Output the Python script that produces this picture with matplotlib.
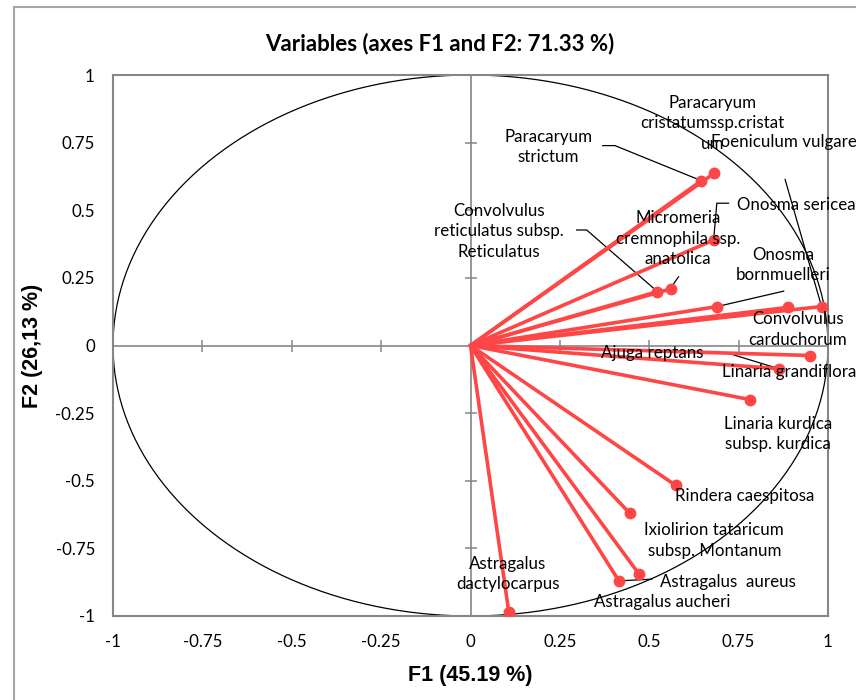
import numpy as np
import matplotlib
matplotlib.use("Agg")
import matplotlib.pyplot as plt
from matplotlib.lines import Line2D

# variable names and their coordinates on F1 / F2
names = [
	"Paracaryum\nstrictum",
	"Paracaryum\ncristatumssp.cristat\num",
	"Foeniculum vulgare",
	"Convolvulus\nreticulatus subsp.\nReticulatus",
	"Micromeria\ncremnophila ssp.\nanatolica",
	"Onosma sericea",
	"Onosma\nbornmuelleri",
	"Convolvulus\ncarduchorum",
	"Ajuga reptans",
	"Linaria grandiflora",
	"Linaria kurdica\nsubsp. kurdica",
	"Rindera caespitosa",
	"Ixiolirion tataricum\nsubsp. Montanum",
	"Astragalus  aureus",
	"Astragalus aucheri",
	"Astragalus\ndactylocarpus",
]
f1 = [0.646, 0.681, 0.982, 0.523, 0.560, 0.680, 0.690, 0.889,
	0.863, 0.951, 0.782, 0.574, 0.446, 0.472, 0.415, 0.107]
f2 = [0.609, 0.636, 0.144, 0.199, 0.209, 0.390, 0.144, 0.141,
	-0.086, -0.037, -0.200, -0.517, -0.621, -0.846, -0.870, -0.984]

ticks = [-1, -0.75, -0.5, -0.25, 0, 0.25, 0.5, 0.75, 1]
tick_labels = ["-1", "-0.75", "-0.5", "-0.25", "0", "0.25", "0.5", "0.75", "1"]

# where each label sits (data coords) and how it is aligned
label_pos = [
	(0.217, 0.734, "center"),
	(0.677, 0.822, "center"),
	(0.673, 0.752, "left"),
	(0.080, 0.423, "center"),
	(0.581, 0.394, "center"),
	(0.746, 0.519, "left"),
	(0.875, 0.298, "center"),
	(0.915, 0.059, "center"),
	(0.507, -0.029, "center"),
	(0.703, -0.099, "left"),
	(0.861, -0.327, "center"),
	(0.766, -0.555, "center"),
	(0.682, -0.721, "center"),
	(0.721, -0.873, "center"),
	(0.537, -0.947, "center"),
	(0.104, -0.845, "center"),
]

# leader lines: index of variable -> bend points before reaching the point
leaders = {
	0: [(0.370, 0.739), (0.404, 0.739)],
	3: [(0.297, 0.427), (0.325, 0.427)],
	5: [(0.722, 0.526), (0.689, 0.526)],
	6: [(0.876, 0.201)],
	2: [(0.880, 0.614)],
	8: [(0.680, -0.027), (0.717, -0.027)],
	14: [(0.507, -0.864)],
}
short_leaders = [[(0.582, 0.254), (0.566, 0.224)]]

RED = "#ff4646"
GREY = "#868686"
FONT = "Lato"
FS = 12.2

fig = plt.figure(figsize=(8.56, 7.00), dpi=100)
ax = fig.add_axes([113 / 856, 84 / 700, 715 / 856, 541 / 700])

# outer chart frame
fig.add_artist(Line2D([14 / 856, 14 / 856], [-0.1, 1 - 7 / 700], transform=fig.transFigure, color="#a6a6a6", lw=1.5))
fig.add_artist(Line2D([14 / 856, 1.1], [1 - 7 / 700, 1 - 7 / 700], transform=fig.transFigure, color="#a6a6a6", lw=1.5))

# unit circle
theta = np.linspace(0, 2 * np.pi, 400)
ax.plot(np.cos(theta), np.sin(theta), color="black", lw=0.9, zorder=2)

# axes through origin with small tick crosses
ax.axhline(0, color=GREY, lw=1.2, zorder=1)
ax.axvline(0, color=GREY, lw=1.2, zorder=1)
inner = [t for t in ticks if t not in (-1, 0, 1)]
ax.plot(inner, [0] * len(inner), linestyle="none", marker="|", markersize=8, color=GREY, mew=1.1, zorder=1)
ax.plot([0] * len(inner), inner, linestyle="none", marker="_", markersize=8, color=GREY, mew=1.1, zorder=1)

# leader lines
for idx, pts in leaders.items():
	xs = [p[0] for p in pts] + [f1[idx]]
	ys = [p[1] for p in pts] + [f2[idx]]
	ax.plot(xs, ys, color="black", lw=0.9, zorder=3)
for pts in short_leaders:
	ax.plot([p[0] for p in pts], [p[1] for p in pts], color="black", lw=0.9, zorder=3)

# vectors
for x, y in zip(f1, f2):
	ax.plot([0, x], [0, y], color=RED, lw=2.6, solid_capstyle="round", zorder=4)
ax.plot(f1, f2, linestyle="none", marker="o", markersize=7.5, color=RED, zorder=5)

# labels
for name, (lx, ly, ha) in zip(names, label_pos):
	ax.text(lx, ly, name, ha=ha, va="center", fontsize=FS, family=FONT,
		linespacing=1.35, color="black", zorder=6, clip_on=False)

ax.set_xlim(-1, 1)
ax.set_ylim(-1, 1)
ax.set_xticks(ticks)
ax.set_xticklabels(tick_labels, family=FONT, fontsize=FS)
ax.set_yticks(ticks)
ax.set_yticklabels(tick_labels, family=FONT, fontsize=FS)
ax.tick_params(length=0, pad=13)
for s in ax.spines.values():
	s.set_color(GREY)
	s.set_linewidth(1.5)

ax.set_xlabel("F1 (45.19 %)", family="Liberation Sans", fontweight="bold", fontsize=15.5, labelpad=11)
ax.set_ylabel("F2 (26,13 %)", family="Liberation Sans", fontweight="bold", fontsize=15.5, labelpad=9)
fig.text(440 / 856, 1 - 44 / 700, "Variables (axes F1 and F2: 71.33 %)", ha="center", va="center",
	family=FONT, fontweight="bold", fontsize=16)

fig.savefig("out.png", dpi=100)
